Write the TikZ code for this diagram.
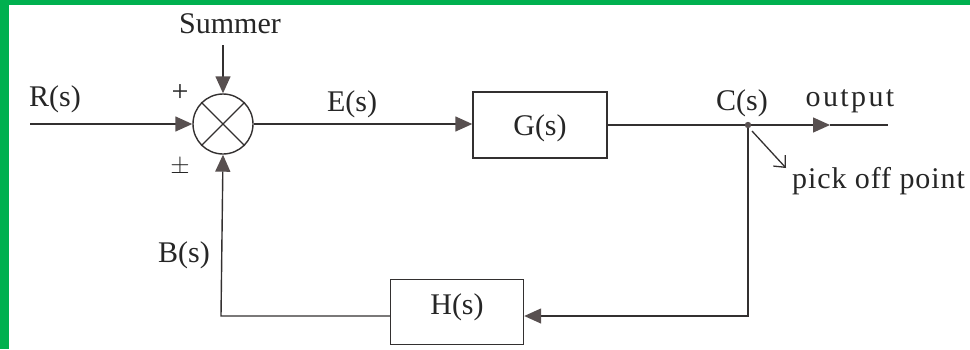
\documentclass[tikz,border=0pt]{standalone}
\usepackage{fontspec}
\setmainfont{Liberation Serif}
\usetikzlibrary{arrows.meta}
\definecolor{frame}{HTML}{00B04F}
\definecolor{ink}{HTML}{333030}
\definecolor{headc}{HTML}{585050}
\tikzset{
  wire/.style={draw=ink, line width=1.4pt},
  tri/.style={-{Triangle[length=17pt,width=15pt,fill=headc,color=headc]}},
  blk/.style={draw=ink, line width=1.4pt, minimum width=134pt, minimum height=66pt, inner sep=0pt},
  lbl/.style={font=\fontsize{30}{32}\selectfont, text=black!85, inner sep=0pt, anchor=base},
}
\begin{document}
\begin{tikzpicture}[x=1pt,y=-1pt]
\useasboundingbox (0,0) rectangle (970,349);
\fill[frame] (0,0) rectangle (970,349);
\fill[white] (9,5) rectangle (970,349);
% summer
\node[circle, draw=ink, line width=1.4pt, minimum size=60pt, inner sep=0pt] (sum) at (223,124) {};
\draw[wire] (sum.45) -- (sum.225);
\draw[wire] (sum.135) -- (sum.315);
% blocks
\node[blk] (G) at (540,125) {};
\node[blk, minimum width=133pt, minimum height=65pt] (H) at (457,312) {};
% coordinates
\coordinate (rin) at (30,124);
\coordinate (stop) at (223,45);
\coordinate (pick) at (748,125);
\coordinate (outarr) at (830,125);
\coordinate (outend) at (888,125);
\coordinate (cr) at (748,316);
\coordinate (cl) at (221,316);
\coordinate (pa) at (752,131);
\coordinate (pb) at (786,168);
% connectors
\draw[wire, tri] (rin) -- (sum.west);
\draw[wire, tri] (stop) -- (sum.north);
\draw[wire, tri] (sum.east) -- (sum.east -| G.west);
\draw[wire] (G.east) -- (pick);
\draw[wire, tri] (pick) -- (outarr);
\draw[wire] (outarr) -- (outend);
\draw[wire, tri] (pick) -- (cr) -- (H.east |- cr);
\draw[wire, tri] (H.west |- cl) -- (cl) -- (sum.south);
\draw[ink, line width=1.3pt, -{Straight Barb[length=9pt,width=16pt]}] (pa) -- (pb);
\fill[headc] (pick) circle (3.2pt);
% labels
\node[lbl] (lsum) at (230,33) {Summer};
\node[lbl] (lR) at (55,106) {R(s)};
\node[lbl, anchor=center] (lp) at (180,93) {+};
\node[lbl, anchor=center] (lpm) at (180,167) {$\pm$};
\node[lbl] (lE) at (352,111) {E(s)};
\node[lbl] (lG) at (540,135) {G(s)};
\node[lbl] (lC) at (742,110) {C(s)};
\node[lbl] (lout) at (850,106) {\addfontfeature{LetterSpace=8}output};
\node[lbl, anchor=base west] (lpick) at (792,188) {\addfontfeature{LetterSpace=3}pick off point};
\node[lbl] (lB) at (184,262) {B(s)};
\node[lbl] (lH) at (457,314) {H(s)};
\end{tikzpicture}
\end{document}
